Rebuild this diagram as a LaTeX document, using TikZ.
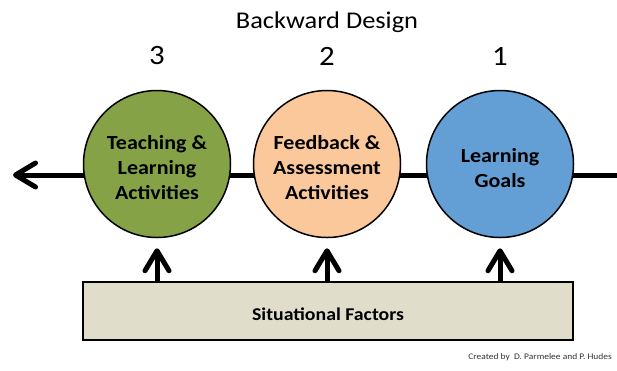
\documentclass[tikz,border=0pt]{standalone}
\usepackage{fontspec}
\setmainfont{Carlito}[FakeStretch=1.1]
\usepackage{xcolor}
\usepackage{tikz}
\usetikzlibrary{arrows.meta}

\definecolor{stagegreen}{HTML}{85A346}
\definecolor{stagepeach}{HTML}{FAC89B}
\definecolor{stageblue}{HTML}{639ED5}
\definecolor{factortan}{HTML}{E0DECB}

\begin{document}
\begin{tikzpicture}[x=1pt, y=-1pt,
    stage/.style={circle, draw=black, line width=1.5pt, minimum size=147pt, inner sep=0pt},
    stagetext/.style={align=center, font=\fontsize{20}{25}\selectfont\bfseries},
    pointer/.style={line width=5pt, -{Straight Barb[length=20pt, width=24pt, round]}}]
          \useasboundingbox (0,0) rectangle (617,370);

          \node[font=\fontsize{24}{28}\selectfont] (title) at (327,22) {Backward Design};

          % time line behind the stages
          \coordinate (lineend) at (617,175);
          \coordinate (linetip) at (13,175);
          \draw[pointer] (lineend) -- (linetip);

          \foreach \x\c\t [count=\xi from 1] in {500/stageblue/{Learning\\Goals},
              327/stagepeach/{Feedback \&\\Assessment\\Activities},
              157/stagegreen/{Teaching \&\\Learning\\Activities}}{%
            \node[stage, fill=\c] (s\xi) at (\x, 164) {};
            \node[stagetext] (t\xi) at (\x, 168) {\t};
            \node[font=\fontsize{28}{30}\selectfont] (n\xi) at (\x, 56) {\xi};
          }

          \node[draw=black, line width=1.5pt, fill=factortan, minimum width=490pt, minimum height=58pt,
            font=\fontsize{18}{22}\selectfont\bfseries] (factors) at (328,311) {};
          \node[font=\fontsize{18}{22}\selectfont\bfseries] (factorstext) at (328,314) {Situational Factors};

          \foreach \xi in {1,2,3}{%
            \draw[pointer, shorten >=10pt] (factors.north -| s\xi) -- (s\xi.south);
          }

          \node[anchor=east, inner sep=0pt, font=\fontsize{8.6}{10}\selectfont, text=black!80] (credit) at (612,357)
            {Created by~ D. Parmelee and P. Hudes};
        \end{tikzpicture}
\end{document}
